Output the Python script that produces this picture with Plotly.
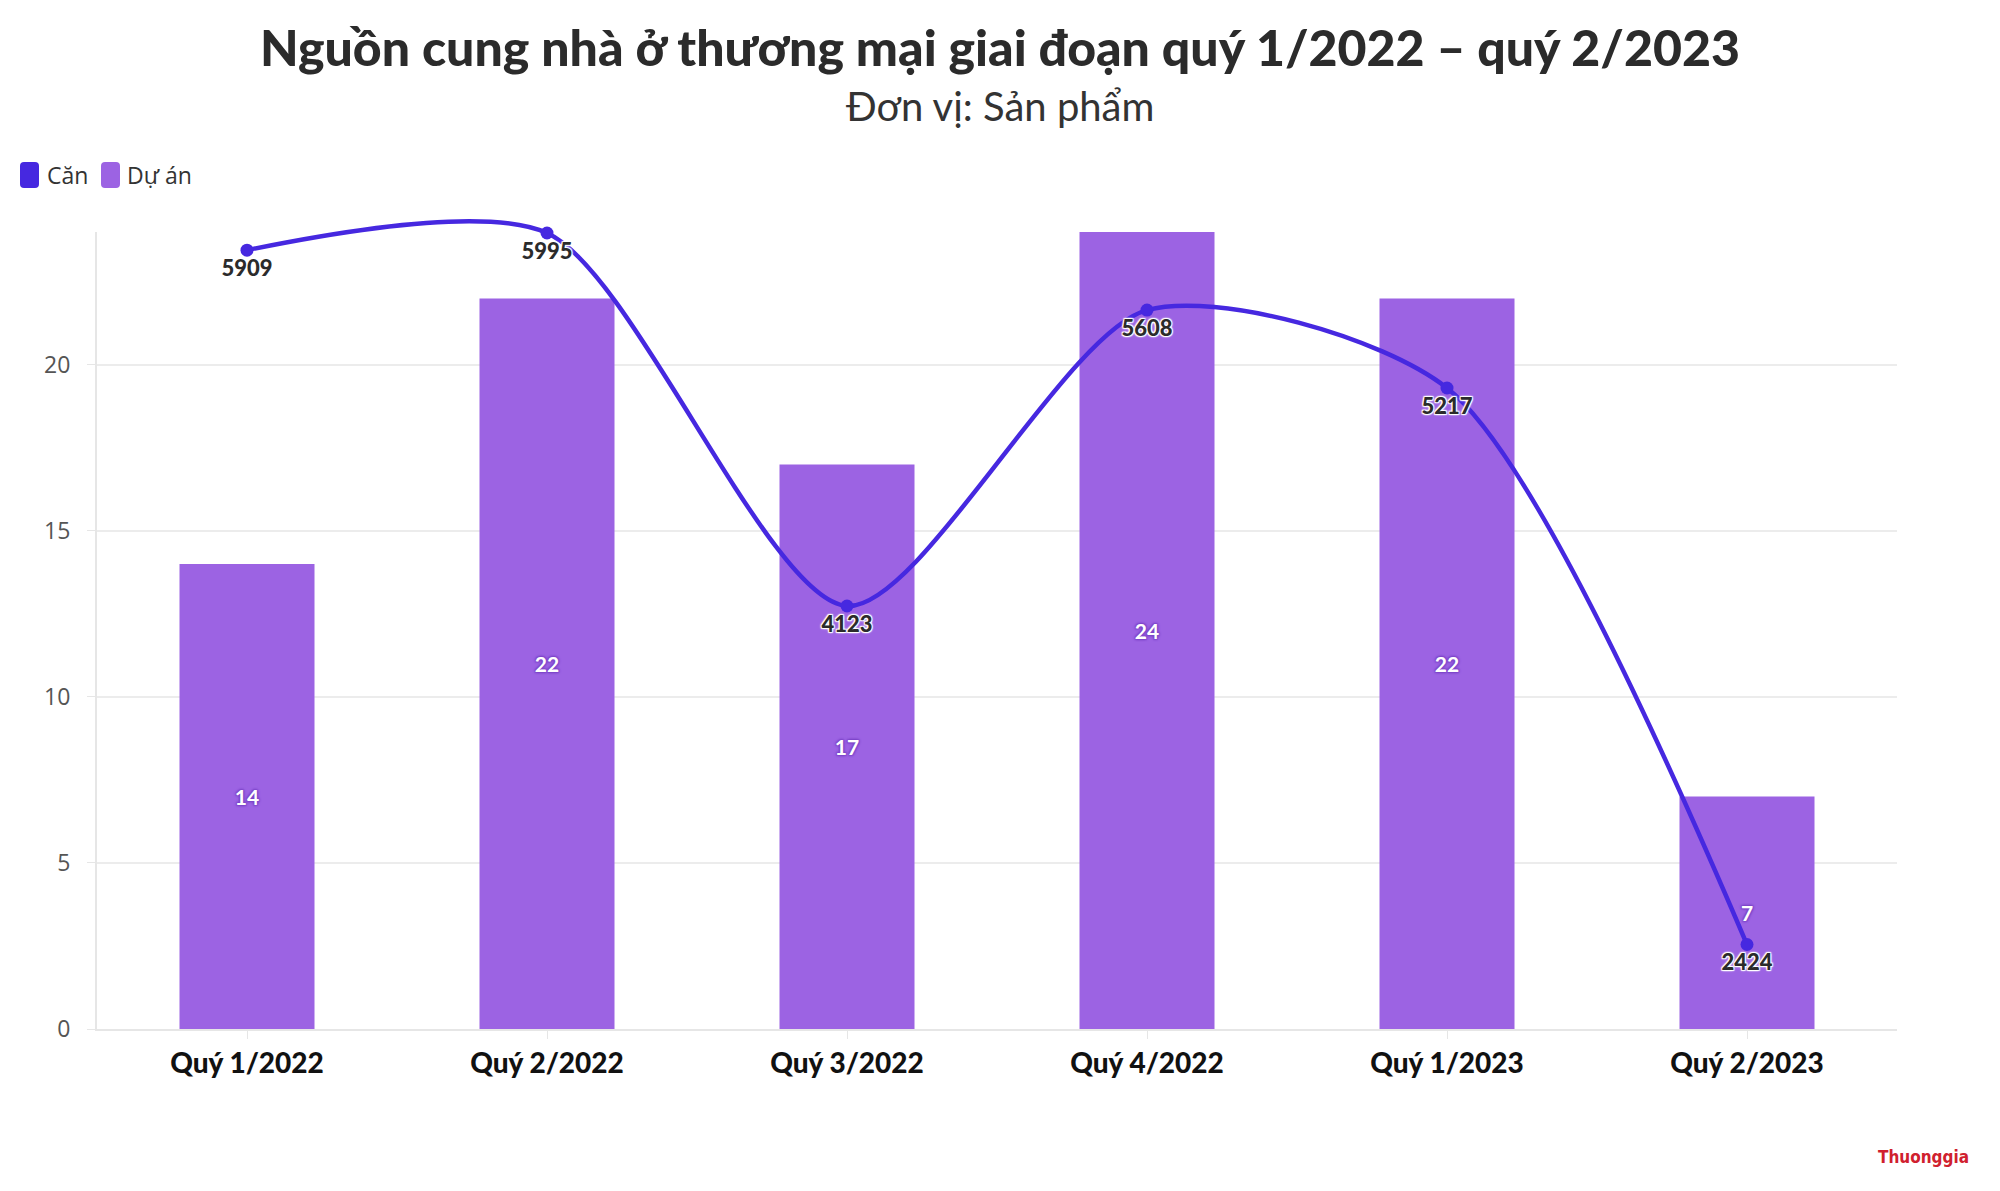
import plotly.graph_objects as go

categories = ["Quý 1/2022", "Quý 2/2022", "Quý 3/2022", "Quý 4/2022", "Quý 1/2023", "Quý 2/2023"]
can_values = [5909, 5995, 4123, 5608, 5217, 2424]
du_an_values = [14, 22, 17, 24, 22, 7]
can_range = [2000, 6000]
du_an_range = [0, 24]

BAR_COLOR = "#9c63e3"
LINE_COLOR = "#4628e0"
OFF = 8  # page body margin
W, H = 1984, 1175
L, R, B = 89, 95, 154
PLOT_TOP = 224          # top of the bar/grid area within the figure
EXTRA = 40              # headroom for the curve above the plot area
T = PLOT_TOP - EXTRA
PW = W - L - R
PH = H - PLOT_TOP - B   # height of visible plot area
PPH = H - T - B         # paper height


def px(xw):
    return (xw - OFF - L) / PW


def py(yw):
    return (OFF + H - B - yw) / PPH


main_top = PH / PPH
line_range = [can_range[0], can_range[0] + (can_range[1] - can_range[0]) * PPH / PH]

fig = go.Figure()

fig.add_trace(go.Bar(
    x=categories, y=du_an_values, name="Dự án",
    marker=dict(color=BAR_COLOR, line=dict(width=0)),
    width=0.45,
    text=[str(v) for v in du_an_values],
    textposition="inside", insidetextanchor="middle", textangle=0,
    constraintext="none",
    textfont=dict(family="Lato", size=21, color="white", weight="bold",
                  shadow="1px 1px 2px #7d45c9, -1px -1px 2px #7d45c9, 1px -1px 2px #7d45c9, -1px 1px 2px #7d45c9"),
    showlegend=False, hoverinfo="x+y",
))

fig.add_trace(go.Scatter(
    x=categories, y=can_values, name="Căn", yaxis="y2",
    mode="lines+markers+text",
    line=dict(color=LINE_COLOR, width=4.5, shape="spline", smoothing=0.75),
    marker=dict(color=LINE_COLOR, size=13),
    text=[str(v) for v in can_values],
    textposition="bottom center",
    cliponaxis=False,
    textfont=dict(family="Lato", size=22, color="#2b2b2b", weight=900,
                  shadow="1px 1px 1px white, -1px -1px 1px white, 1px -1px 1px white, -1px 1px 1px white, 0 0 3px white"),
    showlegend=False, hoverinfo="x+y",
))

axis_font = dict(family="Open Sans", size=23, color="#555555")

fig.update_layout(
    width=W, height=H,
    margin=dict(l=L, r=R, t=T, b=B, pad=0),
    paper_bgcolor="white", plot_bgcolor="rgba(0,0,0,0)",
    title=dict(
        text="Nguồn cung nhà ở thương mại giai đoạn quý 1/2022 – quý 2/2023",
        x=0.5, xanchor="center", y=1 - (48 - OFF) / H, yanchor="middle",
        font=dict(family="Lato", size=50, color="#2b2b2b", weight=900),
    ),
    xaxis=dict(
        type="category", showgrid=False, showline=True, linecolor="#e6e6e6", linewidth=2,
        ticks="outside", ticklen=8, tickcolor="#e6e6e6",
        tickfont=dict(family="Lato", size=28, color="#111111", weight=900),
        range=[-0.5, 5.5], anchor="y",
    ),
    yaxis=dict(
        domain=[0, main_top],
        range=du_an_range, dtick=5, showgrid=True, gridcolor="#ececec", gridwidth=2,
        showline=True, linecolor="#e6e6e6", linewidth=2,
        ticks="outside", ticklen=8, tickcolor="#e6e6e6", ticklabelstandoff=12,
        tickfont=axis_font, zeroline=False,
    ),
    # hidden axis carrying the curve, extended upward so the spline is not clipped
    yaxis2=dict(
        domain=[0, 1], anchor="x", range=line_range, visible=False,
        showgrid=False, zeroline=False,
    ),
    # visible right-hand scale for "Căn"
    yaxis3=dict(
        range=can_range, dtick=1000, overlaying="y", side="right", anchor="x",
        showgrid=False, showline=True, linecolor="#e6e6e6", linewidth=2,
        ticks="outside", ticklen=8, tickcolor="#e6e6e6", ticklabelstandoff=12,
        tickfont=axis_font, zeroline=False,
    ),
    showlegend=False,
)

# subtitle
fig.add_annotation(
    text="Đơn vị: Sản phẩm", xref="paper", yref="paper",
    x=px(1000), y=py(106), xanchor="center", yanchor="middle",
    showarrow=False, font=dict(family="Lato", size=40, color="#333333"),
)


# legend (manual, rounded swatches)
def rounded_rect(x0, y0, w, h, r):
    return (f"M {x0+r},{y0} L {x0+w-r},{y0} Q {x0+w},{y0} {x0+w},{y0+r} "
            f"L {x0+w},{y0+h-r} Q {x0+w},{y0+h} {x0+w-r},{y0+h} "
            f"L {x0+r},{y0+h} Q {x0},{y0+h} {x0},{y0+h-r} "
            f"L {x0},{y0+r} Q {x0},{y0} {x0+r},{y0} Z")


legend_y = py(175)
legend_items = [("Căn", LINE_COLOR, 20, 45), ("Dự án", BAR_COLOR, 101, 125)]
for label, color, sx, tx in legend_items:
    fig.add_shape(
        type="path", xref="paper", yref="paper",
        xsizemode="pixel", ysizemode="pixel",
        xanchor=px(sx), yanchor=legend_y,
        path=rounded_rect(0, -13, 19, 26, 4),
        fillcolor=color, line=dict(width=0),
    )
    fig.add_annotation(
        text=label, xref="paper", yref="paper",
        x=px(tx), y=legend_y, xanchor="left", yanchor="middle",
        showarrow=False, font=dict(family="Open Sans", size=23, color="#333333"),
    )

# watermark
fig.add_annotation(
    text="<b>Thuonggia</b>", xref="paper", yref="paper",
    x=px(1971), y=py(1157),
    xanchor="right", yanchor="middle", showarrow=False,
    font=dict(family="DejaVu Sans Condensed", size=17, color="#d0202e"),
)

fig.write_html("out.html")
